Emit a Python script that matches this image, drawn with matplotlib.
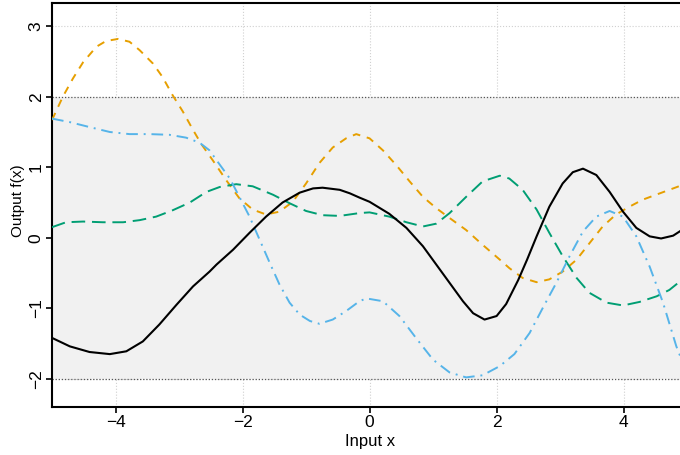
import numpy as np
import matplotlib.pyplot as plt

plt.rcParams['font.family'] = ['Liberation Sans', 'DejaVu Sans']

# four sample functions f(x), read at irregular x positions
x_black = [-5.0, -4.72, -4.41, -4.09, -3.83, -3.57, -3.31, -3.04, -2.78, -2.52,
           -2.41, -2.15, -1.89, -1.63, -1.37, -1.10, -0.89, -0.74, -0.47, -0.31,
           -0.16, 0.0, 0.31, 0.58, 0.84, 1.05, 1.26, 1.47, 1.63, 1.81,
           2.0, 2.15, 2.34, 2.48, 2.63, 2.83, 3.04, 3.20, 3.36,
           3.57, 3.78, 3.99, 4.20, 4.41, 4.59, 4.78, 4.90]
y_black = [-1.42, -1.54, -1.62, -1.65, -1.61, -1.47, -1.23, -0.95, -0.69, -0.48,
           -0.38, -0.17, 0.07, 0.30, 0.50, 0.64, 0.70, 0.71, 0.68, 0.63,
           0.57, 0.51, 0.34, 0.14, -0.12, -0.38, -0.64, -0.90, -1.07, -1.16,
           -1.11, -0.94, -0.60, -0.31, 0.02, 0.44, 0.77, 0.93, 0.98,
           0.89, 0.65, 0.37, 0.14, 0.02, -0.01, 0.03, 0.10]

x_orange = [-5.0, -4.83, -4.67, -4.51, -4.30, -4.15, -3.96, -3.78, -3.62, -3.41,
            -3.26, -3.10, -2.94, -2.78, -2.65, -2.47, -2.26, -2.05, -1.84, -1.63,
            -1.42, -1.21, -1.00, -0.79, -0.58, -0.37, -0.21, 0.0, 0.21, 0.42,
            0.63, 0.84, 1.05, 1.26, 1.52, 1.78, 2.05, 2.20, 2.41, 2.63,
            2.83, 3.04, 3.26, 3.46, 3.67, 3.88, 4.09, 4.30, 4.57, 4.90]
y_orange = [1.67, 2.00, 2.26, 2.49, 2.71, 2.79, 2.82, 2.78, 2.66, 2.47,
            2.28, 2.02, 1.79, 1.53, 1.33, 1.10, 0.82, 0.56, 0.40, 0.33,
            0.37, 0.51, 0.77, 1.06, 1.28, 1.41, 1.47, 1.41, 1.24, 1.03,
            0.80, 0.58, 0.42, 0.28, 0.11, -0.10, -0.31, -0.43, -0.57, -0.63,
            -0.59, -0.48, -0.31, -0.08, 0.16, 0.33, 0.44, 0.54, 0.63, 0.74]

x_green = [-5.0, -4.78, -4.51, -4.20, -3.88, -3.62, -3.36, -3.10, -2.83, -2.57,
           -2.36, -2.10, -1.84, -1.52, -1.26, -1.00, -0.74, -0.47, -0.16, 0.0,
           0.31, 0.58, 0.84, 1.05, 1.26, 1.52, 1.78, 2.05, 2.20, 2.41,
           2.63, 2.83, 3.04, 3.26, 3.46, 3.73, 3.99, 4.25, 4.52, 4.72, 4.90]
y_green = [0.15, 0.22, 0.23, 0.22, 0.22, 0.25, 0.30, 0.39, 0.50, 0.65,
           0.72, 0.76, 0.73, 0.61, 0.49, 0.38, 0.32, 0.31, 0.35, 0.36,
           0.30, 0.22, 0.16, 0.20, 0.35, 0.58, 0.80, 0.88, 0.84, 0.68,
           0.40, 0.07, -0.26, -0.57, -0.78, -0.92, -0.96, -0.91, -0.83, -0.74, -0.61]

x_blue = [-5.0, -4.72, -4.41, -4.09, -3.78, -3.46, -3.15, -2.89, -2.68, -2.52,
          -2.41, -2.20, -2.05, -1.89, -1.73, -1.57, -1.42, -1.26, -1.10, -0.94,
          -0.79, -0.58, -0.37, -0.16, -0.05, 0.21, 0.47, 0.73, 1.00, 1.26,
          1.52, 1.78, 2.05, 2.28, 2.52, 2.73, 2.94, 3.15, 3.36, 3.57,
          3.78, 3.99, 4.20, 4.41, 4.62, 4.83, 4.90]
y_blue = [1.69, 1.64, 1.57, 1.50, 1.47, 1.47, 1.46, 1.42, 1.35, 1.24,
          1.10, 0.84, 0.58, 0.30, -0.03, -0.36, -0.66, -0.92, -1.09, -1.18,
          -1.22, -1.16, -1.04, -0.90, -0.86, -0.90, -1.11, -1.42, -1.73, -1.91,
          -1.98, -1.95, -1.82, -1.65, -1.35, -0.99, -0.64, -0.26, 0.09, 0.30,
          0.38, 0.30, 0.02, -0.41, -0.92, -1.54, -1.70]

fig = plt.figure(figsize=(6.8, 4.55), dpi=100)
ax = fig.add_axes([0.0765, 0.1055, 0.934, 0.888])

# +/- 2 band
ax.axhspan(-2, 2, color='#f1f1f1', zorder=1, lw=0)
ax.axhline(2, color='#555555', lw=0.9, ls=(0, (1, 1.5)), zorder=2)
ax.axhline(-2, color='#555555', lw=0.9, ls=(0, (1, 1.5)), zorder=2)

ax.plot(x_black, y_black, color='black', lw=1.5, zorder=5)
ax.plot(x_orange, y_orange, color='#E69F00', lw=1.4, ls=(0, (4, 3.5)), zorder=4)
ax.plot(x_green, y_green, color='#009E73', lw=1.4, ls=(0, (7, 3.5)), zorder=4)
ax.plot(x_blue, y_blue, color='#56B4E9', lw=1.4, ls=(0, (6, 3, 1, 3)), zorder=4)

ax.set_xlim(-5, 5)
ax.set_ylim(-2.4, 3.33)
ax.set_xticks([-4, -2, 0, 2, 4])
ax.set_yticks([-2, -1, 0, 1, 2, 3])
ax.grid(True, color='#d0d0d0', ls=':', lw=0.8, zorder=0)
ax.set_axisbelow(True)

for s in ['left', 'bottom', 'top']:
    ax.spines[s].set_linewidth(1.5)
ax.spines['right'].set_visible(False)
ax.tick_params(axis='both', direction='out', length=4, width=1.2,
               labelsize=12.5, pad=2)
plt.setp(ax.get_yticklabels(), rotation=90, va='center')

ax.set_xlabel('Input x', fontsize=12)
ax.set_ylabel('Output f(x)', fontsize=11)
ax.xaxis.set_label_coords(0.5, -0.068)
ax.yaxis.set_label_coords(-0.043, 0.51)

plt.savefig('out.png', dpi=100)
